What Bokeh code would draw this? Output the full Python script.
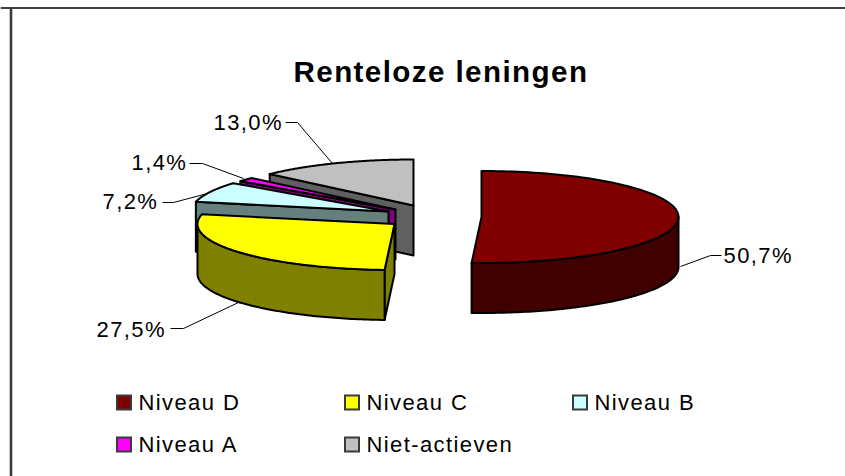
import numpy as np
from bokeh.core.properties import value
from bokeh.embed import file_html
from bokeh.models import Range1d
from bokeh.plotting import figure
from bokeh.resources import INLINE

# ---- data ----
TITLE = "Renteloze leningen"
categories = ["Niveau D", "Niveau C", "Niveau B", "Niveau A", "Niet-actieven"]
shares = [50.7, 27.5, 7.2, 1.4, 13.0]
top_colors = ["#800000", "#FFFF00", "#CCFFFF", "#FF00FF", "#C0C0C0"]
wall_colors = ["#400000", "#808000", "#668080", "#800080", "#606060"]

# ---- layout (page pixels) ----
W, H = 845, 476
RX, RY, DEPTH = 197, 46, 50
slice_centers = [(481, 216.5), (394, 223.5), (388, 211), (395, 209), (413, 205)]
draw_order = [4, 3, 2, 1, 0]
label_origin = [(723, 263), (96, 337), (102, 209), (131, 170), (213, 130)]
leaders = [
    [(680, 266), (710, 255), (721, 255)],
    [(170, 328), (183, 328), (238, 302)],
    [(162, 202), (173, 202), (207, 193)],
    [(189, 163), (202, 163), (243, 178)],
    [(285, 122), (297, 122), (332, 163)],
]
legend_swatch = [(123.5, 402), (351.5, 402), (579.5, 402), (123.5, 444), (351.5, 444)]
FONT = value("Liberation Sans")
TEXT_PX, TITLE_PX = 22, 29.6
TEXT_SHIFT, TITLE_SHIFT = -8, -10.7   # offset that puts the glyphs on the intended baseline

p = figure(width=W, height=H, x_range=Range1d(0, W), y_range=Range1d(H, 0),
           x_axis_type=None, y_axis_type=None, toolbar_location=None,
           output_backend="svg", min_border=0, outline_line_color=None,
           background_fill_color="white", border_fill_color="white")
p.grid.visible = False
p.styles = {"letter-spacing": "1.4px"}

# frame: only the top and left rules exist in the reference
p.segment([0], [7.5], [W], [7.5], line_color="#000000", line_width=1.6)
p.segment([10.5], [7], [10.5], [H], line_color="#3a3a3a", line_width=2.6)

# ---- exploded 3-D pie, built from the shares ----
edges = np.concatenate([[0], np.cumsum(shares)]) / np.sum(shares) * 360.0


def rim(c, deg):
    a = np.radians(deg)
    return c[0] + RX * np.sin(a), c[1] - RY * np.cos(a)


def add(xs, ys, color):
    p.patch(list(xs), list(ys), fill_color=color, line_color="#000000",
            line_width=2, line_join="round")


for i in draw_order:
    c, a0, a1 = slice_centers[i], edges[i], edges[i + 1]
    # cut face on the start edge, turned towards the viewer for a0 in 180..360
    if 180 < a0 < 360:
        rx, ry = rim(c, a0)
        add([c[0], rx, rx, c[0]], [c[1], ry, ry + DEPTH, c[1] + DEPTH], wall_colors[i])
    # cut face on the end edge, turned towards the viewer for a1 in 0..180
    if 0 < a1 < 180:
        rx, ry = rim(c, a1)
        add([c[0], rx, rx, c[0]], [c[1], ry, ry + DEPTH, c[1] + DEPTH], wall_colors[i])
    # outer wall: front half of the rim only
    lo, hi = max(a0, 90), min(a1, 270)
    if lo < hi:
        ang = np.linspace(lo, hi, 90)
        rx, ry = rim(c, ang)
        add(np.r_[rx, rx[::-1]], np.r_[ry, ry[::-1] + DEPTH], wall_colors[i])
    # top face
    ang = np.linspace(a0, a1, 120)
    rx, ry = rim(c, ang)
    add(np.r_[c[0], rx], np.r_[c[1], ry], top_colors[i])

# ---- leaders and percentage labels ----
for pts in leaders:
    p.line([q[0] for q in pts], [q[1] for q in pts], line_color="#000000", line_width=1)

labels = [f"{v:.1f}%".replace(".", ",") for v in shares]
p.text([q[0] for q in label_origin], [q[1] for q in label_origin], text=labels,
       text_font=FONT, text_font_size=f"{TEXT_PX}px", text_color="#000000",
       text_align="left", text_baseline="alphabetic", y_offset=TEXT_SHIFT)

# ---- title ----
p.text([293], [82], text=[TITLE], text_font=FONT, text_font_size=f"{TITLE_PX}px",
       text_font_style="bold", text_color="#000000", text_align="left",
       text_baseline="alphabetic", y_offset=TITLE_SHIFT)

# ---- legend ----
p.scatter([q[0] for q in legend_swatch], [q[1] for q in legend_swatch], marker="square",
          size=14, fill_color=top_colors, line_color="#3a3a3a", line_width=2, line_join="miter")
p.text([q[0] + 14.5 for q in legend_swatch], [q[1] + 7.5 for q in legend_swatch],
       text=categories, text_font=FONT, text_font_size=f"{TEXT_PX}px", text_color="#000000",
       text_align="left", text_baseline="alphabetic", y_offset=TEXT_SHIFT)

open("out.html", "w").write(file_html(p, INLINE))
